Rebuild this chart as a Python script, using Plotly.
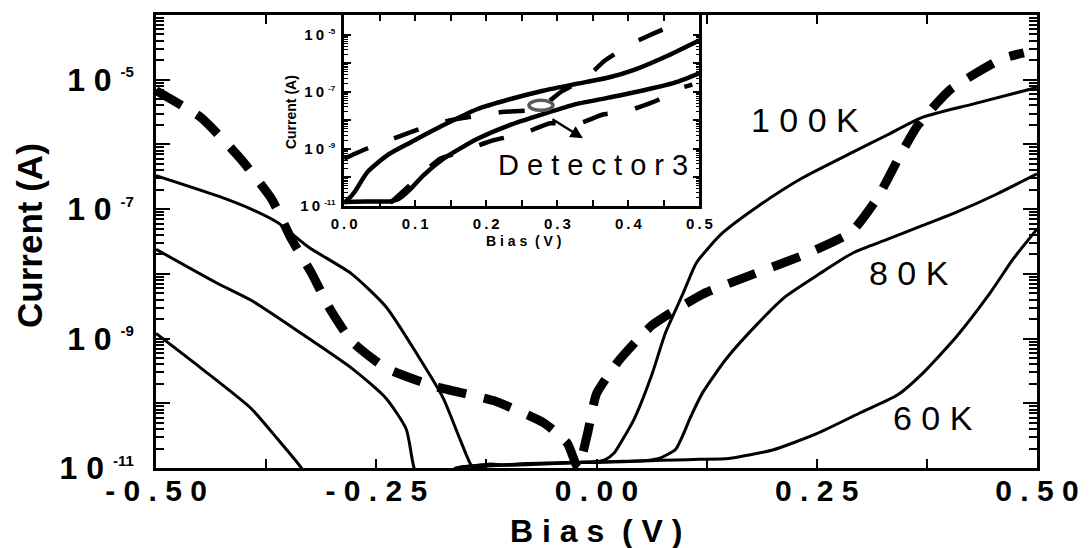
import plotly.graph_objects as go

# ---------------- main panel data (Bias in V, Current in A) ----------------
bias_100K = [-0.5, -0.43, -0.392, -0.362, -0.327, -0.278, -0.239, -0.201, -0.174, -0.155, -0.140,
             -0.13, -0.11, -0.08, -0.05, -0.02, 0.0, 0.010, 0.020, 0.030, 0.043, 0.063, 0.078,
             0.098, 0.113, 0.130, 0.144, 0.183, 0.233, 0.291, 0.330, 0.369, 0.427, 0.5]
cur_100K = [3.3e-7, 1.6e-7, 1.0e-7, 6.2e-8, 2.6e-8, 1.0e-8, 3.1e-9, 5.0e-10, 1.2e-10, 2.8e-11, 1.0e-11,
            1.05e-11, 1.1e-11, 1.17e-11, 1.2e-11, 1.23e-11, 1.26e-11, 1.35e-11, 1.7e-11, 2.8e-11, 5.8e-11,
            2.8e-10, 1.2e-9, 4.9e-9, 1.45e-8, 2.8e-8, 4.4e-8, 1.1e-7, 3.0e-7, 7.6e-7, 1.4e-6, 2.6e-6,
            4.2e-6, 7.6e-6]

bias_80K = [-0.5, -0.43, -0.392, -0.335, -0.278, -0.239, -0.216, -0.207, -0.200, -0.165, -0.155,
            -0.12, -0.08, -0.04, 0.0, 0.03, 0.06, 0.071, 0.080, 0.090, 0.098, 0.106, 0.121, 0.148,
            0.183, 0.214, 0.253, 0.291, 0.330, 0.369, 0.408, 0.454, 0.5]
cur_80K = [2.4e-8, 7.1e-9, 3.9e-9, 1.2e-9, 3.5e-10, 1.2e-10, 4.0e-11, 1.0e-11, 7e-12, 7e-12, 1.02e-11,
           1.1e-11, 1.15e-11, 1.2e-11, 1.24e-11, 1.27e-11, 1.32e-11, 1.4e-11, 1.6e-11, 1.95e-11,
           3.2e-11, 5.8e-11, 1.5e-10, 5.0e-10, 1.7e-9, 4.4e-9, 1.0e-8, 2.1e-8, 3.4e-8, 5.5e-8, 8.9e-8,
           1.7e-7, 3.5e-7]

bias_60K = [-0.5, -0.449, -0.392, -0.362, -0.335, -0.33, -0.17, -0.16, -0.14, -0.12, -0.10, -0.06,
            -0.03, 0.0, 0.03, 0.06, 0.09, 0.117, 0.15, 0.20, 0.25, 0.30, 0.342, 0.369, 0.408, 0.446,
            0.473, 0.5]
cur_60K = [1.2e-9, 3.5e-10, 8.3e-11, 2.8e-11, 1.0e-11, 7e-12, 7e-12, 1.0e-11, 1.08e-11, 1.15e-11,
           1.1e-11, 1.15e-11, 1.2e-11, 1.22e-11, 1.25e-11, 1.3e-11, 1.33e-11, 1.36e-11, 1.4e-11,
           1.9e-11, 3.4e-11, 7.2e-11, 1.35e-10, 2.8e-10, 1.05e-9, 4.9e-9, 1.7e-8, 4.9e-8]

bias_dash = [-0.5, -0.449, -0.404, -0.369, -0.346, -0.323, -0.304, -0.278, -0.239, -0.182, -0.117,
             -0.060, -0.033, -0.021, -0.010, 0.0, 0.025, 0.063, 0.121, 0.179, 0.237, 0.289, 0.319,
             0.342, 0.365, 0.402, 0.460, 0.485]
cur_dash = [6.8e-6, 2.6e-6, 6.0e-7, 1.45e-7, 3.4e-8, 1.0e-8, 3.1e-9, 9.1e-10, 3.5e-10, 1.8e-10,
            1.1e-10, 5.0e-11, 2.4e-11, 1.0e-11, 3.5e-11, 1.4e-10, 4.5e-10, 1.6e-9, 4.9e-9, 1.0e-8,
            2.0e-8, 4.4e-8, 1.5e-7, 5.8e-7, 2.0e-6, 7.1e-6, 2.1e-5, 2.6e-5]

# ---------------- inset data (Detector3) ----------------
ins_bias_up = [0.0, 0.005, 0.015, 0.033, 0.061, 0.094, 0.140, 0.187, 0.233, 0.280, 0.326, 0.372,
               0.410, 0.456, 0.5]
ins_cur_up = [1.26e-11, 1.6e-11, 3.1e-11, 1.55e-10, 6.0e-10, 1.7e-9, 6.8e-9, 2.45e-8, 5.5e-8, 1.1e-7,
              1.9e-7, 3.2e-7, 6.2e-7, 1.9e-6, 6.5e-6]
ins_bias_lo = [0.0, 0.03, 0.067, 0.075, 0.085, 0.094, 0.112, 0.140, 0.187, 0.233, 0.280, 0.326,
               0.372, 0.419, 0.465, 0.5]
ins_cur_lo = [1.35e-11, 1.4e-11, 1.45e-11, 1.65e-11, 2.5e-11, 4.0e-11, 1.2e-10, 4.5e-10, 2.2e-9,
              6.8e-9, 1.65e-8, 3.7e-8, 6.3e-8, 1.1e-7, 2.1e-7, 4.5e-7]
ins_bias_d1 = [0.0, 0.035, 0.07, 0.108, 0.148, 0.183, 0.225, 0.27, 0.29, 0.305, 0.338, 0.367, 0.405,
               0.45, 0.47]
ins_cur_d1 = [4.5e-10, 1.1e-9, 2.3e-9, 5.1e-9, 1.0e-8, 1.4e-8, 2.0e-8, 2.4e-8, 5.0e-8, 1.0e-7, 2.8e-7,
              1.26e-6, 5.0e-6, 1.6e-5, 2.4e-5]
ins_bias_d2 = [0.065, 0.072, 0.10, 0.135, 0.165, 0.21, 0.25, 0.29, 0.326, 0.364, 0.40, 0.44, 0.47,
               0.49]
ins_cur_d2 = [1.26e-11, 1.8e-11, 7.9e-11, 4.5e-10, 7.9e-10, 2.0e-9, 3.3e-9, 7.9e-9, 7.1e-9, 1.6e-8,
              2.2e-8, 5.0e-8, 1.26e-7, 1.8e-7]

# ---------------- labels / ticks ----------------
main_xtick_vals = [-0.5, -0.375, -0.25, -0.125, 0.0, 0.125, 0.25, 0.375, 0.5]
main_xtick_text = ["- 0 . 5 0", "", "- 0 . 2 5", "", "0 . 0 0", "", "0 . 2 5", "", "0 . 5 0"]
main_ytick_vals = [1e-11, 1e-10, 1e-9, 1e-8, 1e-7, 1e-6, 1e-5, 1e-4]
SUP = "<sup><span style='font-size:15px'>%s</span></sup>"
main_ytick_text = ["1 0 " + SUP % "-11", "", "1 0 " + SUP % "-9", "", "1 0 " + SUP % "-7", "",
                   "1 0 " + SUP % "-5", ""]
minor_decade_ticks = [k * 10.0 ** e for e in range(-11, -4) for k in range(2, 10)]

ins_xtick_vals = [0.0, 0.05, 0.1, 0.15, 0.2, 0.25, 0.3, 0.35, 0.4, 0.45, 0.5]
ins_xtick_text = ["0\u2009.\u20090", "", "0\u2009.\u20091", "", "0\u2009.\u20092", "", "0\u2009.\u20093", "",
                  "0\u2009.\u20094", "", "0\u2009.\u20095"]
ins_ytick_vals = [1e-11, 1e-10, 1e-9, 1e-8, 1e-7, 1e-6, 1e-5]
SUPS = "<sup><span style='font-size:8px'>%s</span></sup>"
ins_ytick_text = ["1\u20090 " + SUPS % "-11", "", "1\u20090 " + SUPS % "-9", "", "1\u20090 " + SUPS % "-7", "",
                  "1\u20090 " + SUPS % "-5"]
ins_minor_ticks = [k * 10.0 ** e for e in range(-11, -5) for k in range(2, 10)]

FONT = "Liberation Sans, Arial, sans-serif"

fig = go.Figure()

# main panel
for xs, ys in [(bias_100K, cur_100K), (bias_80K, cur_80K), (bias_60K, cur_60K)]:
    fig.add_trace(go.Scatter(x=xs, y=ys, mode="lines",
                             line=dict(color="black", width=3, shape="spline", smoothing=0.6),
                             showlegend=False, hoverinfo="skip"))
fig.add_trace(go.Scatter(x=bias_dash, y=cur_dash, mode="lines",
                         line=dict(color="black", width=9, dash="29px,18px", shape="spline",
                                   smoothing=0.5),
                         showlegend=False, hoverinfo="skip"))

# inset
for xs, ys in [(ins_bias_up, ins_cur_up), (ins_bias_lo, ins_cur_lo)]:
    fig.add_trace(go.Scatter(x=xs, y=ys, mode="lines",
                             line=dict(color="black", width=4.5, shape="spline", smoothing=0.6),
                             xaxis="x2", yaxis="y2", showlegend=False, hoverinfo="skip"))
for xs, ys in [(ins_bias_d1, ins_cur_d1), (ins_bias_d2, ins_cur_d2)]:
    fig.add_trace(go.Scatter(x=xs, y=ys, mode="lines",
                             line=dict(color="black", width=4.5, dash="26px,28px", shape="spline",
                                       smoothing=0.5),
                             xaxis="x2", yaxis="y2", showlegend=False, hoverinfo="skip"))

axis_common = dict(showline=True, linecolor="black", mirror="allticks", ticks="inside",
                   tickcolor="black", showgrid=False, zeroline=False)

fig.update_layout(
    width=1091, height=548,
    margin=dict(l=156, r=45, t=12, b=80),
    paper_bgcolor="white", plot_bgcolor="white",
    showlegend=False,
    xaxis=dict(**axis_common, range=[-0.5, 0.5], linewidth=2.5, tickmode="array",
               tickvals=main_xtick_vals, ticktext=main_xtick_text, ticklen=9, tickwidth=2,
               ticklabelstandoff=-6,
               tickfont=dict(family=FONT, size=30, color="black", weight="bold")),
    yaxis=dict(**axis_common, type="log", range=[-11, -4], linewidth=2.5, tickmode="array",
               tickvals=main_ytick_vals, ticktext=main_ytick_text, ticklen=14, tickwidth=2,
               ticklabelstandoff=13,
               minor=dict(ticks="inside", ticklen=8, tickwidth=1.5, tickcolor="black",
                          tickmode="array", tickvals=minor_decade_ticks, showgrid=False),
               tickfont=dict(family=FONT, size=32, color="black", weight="bold")),
    xaxis2=dict(**axis_common, domain=[0.2135, 0.6169], anchor="y2", range=[0, 0.5], linewidth=2.5,
                tickmode="array", tickvals=ins_xtick_vals, ticktext=ins_xtick_text, ticklen=6,
                tickwidth=1.5, ticklabelstandoff=2,
                tickfont=dict(family=FONT, size=15, color="black", weight="bold")),
    yaxis2=dict(**axis_common, domain=[0.5789, 1.0], anchor="x2", type="log", range=[-11, -4.3],
                linewidth=2.5, tickmode="array", tickvals=ins_ytick_vals, ticktext=ins_ytick_text,
                ticklen=7, tickwidth=1.5, ticklabelstandoff=3,
                minor=dict(ticks="inside", ticklen=4, tickwidth=1, tickcolor="black",
                           tickmode="array", tickvals=ins_minor_ticks, showgrid=False),
                tickfont=dict(family=FONT, size=15, color="black", weight="bold")),
)

# white background behind the inset
fig.add_shape(type="rect", xref="x2 domain", yref="y2 domain", x0=0, x1=1, y0=0, y1=1,
              fillcolor="white", line=dict(width=0), layer="below")

# grey marker circle and arrow in the inset
CIRCLE_BIAS, CIRCLE_CUR = 0.277, 2.24e-8
fig.add_shape(type="circle", xref="x2", yref="y2", xsizemode="pixel", ysizemode="pixel",
              xanchor=CIRCLE_BIAS, yanchor=CIRCLE_CUR, x0=-12, x1=12, y0=-10, y1=10,
              line=dict(color="#5a5a5a", width=3.5))
fig.add_annotation(xref="x2", yref="y2", x=0.336, y=-8.63, ax=-32, ay=-20, text="",
                   showarrow=True, arrowhead=2, arrowsize=1, arrowwidth=2.5, arrowcolor="black")

# texts
def label(text, xref, yref, x, y, size, bold=False, angle=0):
    fig.add_annotation(xref=xref, yref=yref, x=x, y=y, text=text, showarrow=False,
                       xanchor="center", yanchor="middle", textangle=angle,
                       font=dict(family=FONT, size=size, color="black",
                                 weight="bold" if bold else "normal"))

label("D e t e c t o r 3", "x2", "y2", 0.3496, -9.57, 29)
label("1 0 0 K", "x", "y", 0.237, -5.63, 34)
label("8 0 K", "x", "y", 0.355, -7.98, 34)
label("6 0 K", "x", "y", 0.382, -10.23, 34)

# axis titles
label("B i a s  ( V )", "paper", "paper", 0.4989, -0.138, 32, bold=True)
label("Current (A)", "paper", "paper", -0.1438, 0.513, 35, bold=True, angle=-90)
label("B i a s  ( V )", "paper", "paper", 0.4169, 0.502, 14, bold=True)
label("Current (A)", "paper", "paper", 0.154, 0.785, 14, bold=True, angle=-90)

fig.write_html("out.html")
